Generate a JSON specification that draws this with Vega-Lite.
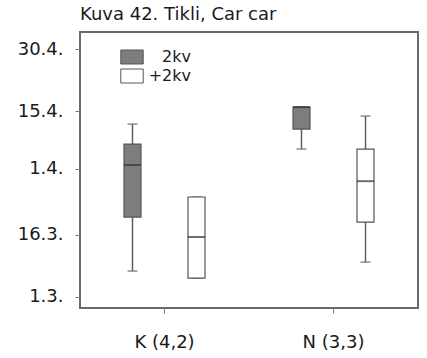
{
  "$schema": "https://vega.github.io/schema/vega-lite/v6.json",
  "autosize": "none",
  "padding": {"left": 80, "top": 32, "right": 9, "bottom": 50},
  "width": 338,
  "height": 276,
  "background": "white",
  "config": {
    "font": "DejaVu Sans",
    "view": {"stroke": "#6a6a6a", "strokeWidth": 2},
    "axis": {"grid": false, "domain": false, "labelFont": "DejaVu Sans", "labelFontSize": 18, "labelColor": "#1a1a1a", "tickColor": "#777", "tickSize": 5, "title": null}
  },
  "title": {"text": "Kuva 42. Tikli, Car car", "anchor": "start", "frame": "group", "fontSize": 18, "fontWeight": "normal", "font": "DejaVu Sans", "color": "#1a1a1a", "offset": 8},
  "data": {"values": [
    {"laji": "K (4,2)", "ika": "2kv", "min": "2001-03-07T05:00", "q1": "2001-03-20T07:00", "med": "2001-04-01T22:00", "q3": "2001-04-07T00:00", "max": "2001-04-11T20:00"},
    {"laji": "K (4,2)", "ika": "+2kv", "min": "2001-03-05T12:00", "q1": "2001-03-05T12:00", "med": "2001-03-15T11:00", "q3": "2001-03-25T04:00", "max": "2001-03-25T04:00"},
    {"laji": "N (3,3)", "ika": "2kv", "min": "2001-04-05T19:00", "q1": "2001-04-10T15:00", "med": "2001-04-15T23:00", "q3": "2001-04-15T23:00", "max": "2001-04-15T23:00"},
    {"laji": "N (3,3)", "ika": "+2kv", "min": "2001-03-09T09:00", "q1": "2001-03-19T02:00", "med": "2001-03-29T00:00", "q3": "2001-04-05T19:00", "max": "2001-04-13T19:00"}
  ]},
  "encoding": {
    "x": {"field": "laji", "type": "nominal", "scale": {"paddingInner": 0, "paddingOuter": 0}, "axis": {"labelAngle": 0, "labelPadding": 20}},
    "xOffset": {"field": "ika", "type": "nominal", "sort": ["2kv", "+2kv"], "scale": {"paddingInner": 0.5, "paddingOuter": 0.57}}
  },
  "layer": [
    {
      "mark": {"type": "rule", "color": "#5f5f5f", "strokeWidth": 1.5},
      "encoding": {
        "y": {"field": "min", "type": "temporal",
          "scale": {"domain": [{"year": 2001, "month": 2, "date": 26, "hours": 6}, {"year": 2001, "month": 5, "date": 4, "hours": 4}], "nice": false},
          "axis": {"values": [{"year": 2001, "month": 3, "date": 1}, {"year": 2001, "month": 3, "date": 16}, {"year": 2001, "month": 4, "date": 1}, {"year": 2001, "month": 4, "date": 15}, {"year": 2001, "month": 4, "date": 30}], "format": "%-d.%-m.", "labelPadding": 12}},
        "y2": {"field": "max"}
      }
    },
    {
      "mark": {"type": "tick", "color": "#5f5f5f", "size": 10, "thickness": 1.5},
      "encoding": {"y": {"field": "min", "type": "temporal"}}
    },
    {
      "mark": {"type": "tick", "color": "#5f5f5f", "size": 10, "thickness": 1.5},
      "encoding": {"y": {"field": "max", "type": "temporal"}}
    },
    {
      "mark": {"type": "bar", "size": 17, "stroke": "#555", "strokeWidth": 1.2},
      "encoding": {
        "y": {"field": "q1", "type": "temporal"},
        "y2": {"field": "q3"},
        "fill": {"field": "ika", "type": "nominal", "sort": ["2kv", "+2kv"],
          "scale": {"range": ["#7d7d7d", "#ffffff"]},
          "legend": {"orient": "none", "legendX": 44, "legendY": 17, "title": null, "padding": 0,
            "symbolType": "M-1.6,-1H1.6V1H-1.6Z", "symbolSize": 196, "symbolStrokeColor": "#555", "symbolStrokeWidth": 1,
            "labelFont": "DejaVu Sans", "labelFontSize": 16, "labelColor": "#1a1a1a", "labelAlign": "right", "labelOffset": 51, "rowPadding": 1}}
      }
    },
    {
      "mark": {"type": "tick", "color": "#333", "size": 17, "thickness": 2},
      "encoding": {"y": {"field": "med", "type": "temporal"}}
    }
  ]
}
